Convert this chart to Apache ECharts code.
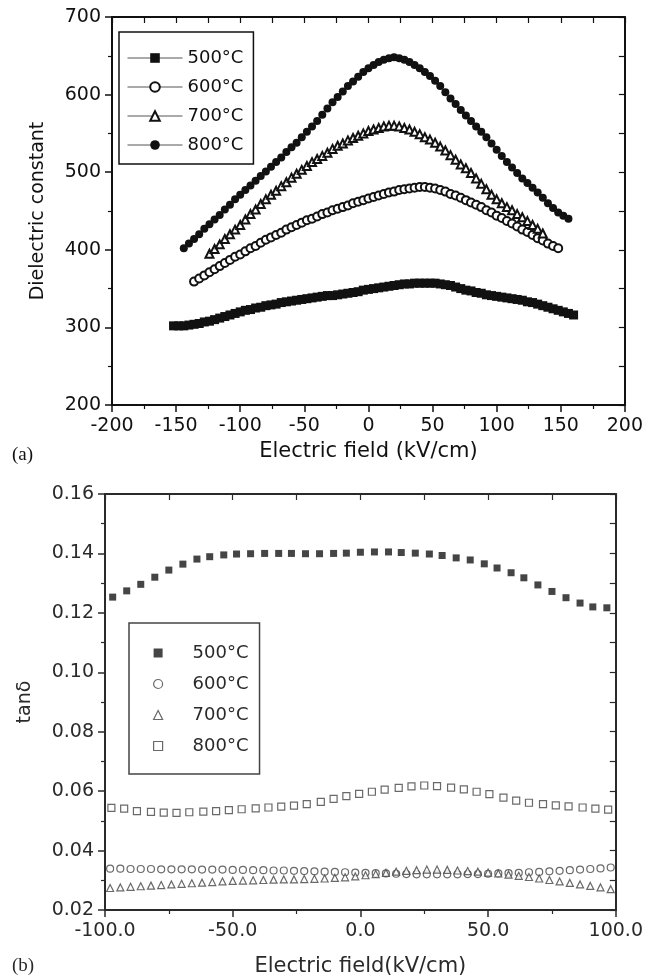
<!DOCTYPE html>
<html>
<head>
<meta charset="utf-8">
<title>Dielectric constant and tanδ vs electric field</title>
<script src="https://cdn.jsdelivr.net/npm/echarts@6/dist/echarts.min.js"></script>
<style>
  html, body { margin: 0; padding: 0; background: #ffffff; }
  #chart { width: 646px; height: 980px; }
</style>
</head>
<body>
<div id="chart"></div>
<script>
// Annealing temperatures shown in both panels
const temps = ['500°C', '600°C', '700°C', '800°C'];

// Panel (a): dielectric constant vs electric field (kV/cm), [field, value]
const eps500 = [[-152,302],[-148,302],[-144,302],[-140,303],[-136,304],[-132,305],[-128,307],[-124,308],[-120,310],[-116,312],[-112,314],[-108,316],[-104,318],[-100,320],[-96,322],[-92,323],[-88,325],[-84,326],[-80,328],[-76,329],[-72,330],[-68,332],[-64,333],[-60,334],[-56,335],[-52,336],[-48,337],[-44,338],[-40,339],[-36,340],[-32,341],[-28,341],[-24,342],[-20,343],[-16,344],[-12,345],[-8,346],[-4,348],[0,349],[4,350],[8,351],[12,352],[16,353],[20,354],[24,355],[28,356],[32,356],[36,357],[40,357],[44,357],[48,357],[52,357],[56,356],[60,355],[64,354],[68,352],[72,350],[76,348],[80,347],[84,345],[88,344],[92,342],[96,341],[100,340],[104,339],[108,338],[112,337],[116,336],[120,335],[124,333],[128,332],[132,330],[136,328],[140,326],[144,324],[148,322],[152,320],[156,318],[160,316]];
const eps600 = [[-136,359],[-132,363],[-128,367],[-124,371],[-120,375],[-116,379],[-112,383],[-108,387],[-104,391],[-100,394],[-96,398],[-92,402],[-88,405],[-84,409],[-80,413],[-76,416],[-72,419],[-68,422],[-64,426],[-60,429],[-56,432],[-52,435],[-48,438],[-44,440],[-40,443],[-36,446],[-32,448],[-28,451],[-24,453],[-20,455],[-16,457],[-12,460],[-8,462],[-4,464],[0,466],[4,468],[8,470],[12,472],[16,474],[20,475],[24,477],[28,478],[32,479],[36,480],[40,481],[44,481],[48,480],[52,479],[56,477],[60,475],[64,472],[68,470],[72,467],[76,464],[80,461],[84,458],[88,455],[92,451],[96,448],[100,444],[104,441],[108,437],[112,434],[116,430],[120,426],[124,423],[128,419],[132,415],[136,412],[140,408],[144,405],[148,402]];
const eps700 = [[-124,395],[-120,401],[-116,407],[-112,414],[-108,420],[-104,426],[-100,432],[-96,439],[-92,446],[-88,452],[-84,459],[-80,465],[-76,471],[-72,476],[-68,482],[-64,487],[-60,493],[-56,498],[-52,503],[-48,508],[-44,513],[-40,517],[-36,521],[-32,525],[-28,530],[-24,534],[-20,537],[-16,541],[-12,544],[-8,547],[-4,550],[0,553],[4,555],[8,557],[12,559],[16,560],[20,560],[24,559],[28,557],[32,555],[36,552],[40,549],[44,545],[48,542],[52,538],[56,533],[60,528],[64,522],[68,516],[72,510],[76,505],[80,499],[84,492],[88,485],[92,478],[96,471],[100,465],[104,460],[108,455],[112,451],[116,446],[120,442],[124,437],[128,432],[132,427],[136,421]];
const eps800 = [[-144,402],[-140,408],[-136,414],[-132,420],[-128,427],[-124,433],[-120,439],[-116,445],[-112,452],[-108,458],[-104,465],[-100,471],[-96,477],[-92,483],[-88,489],[-84,495],[-80,501],[-76,507],[-72,513],[-68,519],[-64,526],[-60,532],[-56,538],[-52,545],[-48,552],[-44,559],[-40,566],[-36,574],[-32,582],[-28,590],[-24,597],[-20,604],[-16,611],[-12,617],[-8,623],[-4,629],[0,634],[4,638],[8,642],[12,645],[16,647],[20,648],[24,647],[28,645],[32,642],[36,638],[40,634],[44,629],[48,624],[52,618],[56,611],[60,603],[64,595],[68,588],[72,580],[76,573],[80,566],[84,559],[88,552],[92,545],[96,537],[100,529],[104,521],[108,513],[112,506],[116,499],[120,492],[124,486],[128,480],[132,474],[136,467],[140,460],[144,454],[148,448],[152,444],[156,440]];

// Panel (b): loss tangent vs electric field (kV/cm), [field, value]
const tan500 = [[-97,0.1253],[-91.5,0.1274],[-86,0.1296],[-80.5,0.1320],[-75,0.1344],[-69.5,0.1364],[-64,0.1381],[-59,0.1389],[-53.5,0.1395],[-48.5,0.1398],[-43,0.1399],[-37.5,0.1400],[-32,0.1400],[-27,0.1400],[-21.5,0.1399],[-16,0.1399],[-10.5,0.1400],[-5.5,0.1401],[0,0.1404],[5.5,0.1405],[11,0.1405],[16,0.1403],[21.5,0.1401],[27,0.1398],[32,0.1393],[37.5,0.1385],[43,0.1378],[48.5,0.1365],[53.5,0.1351],[59,0.1335],[64,0.1318],[69.5,0.1294],[75,0.1272],[80.5,0.1251],[86,0.1233],[91,0.1220],[96.5,0.1217]];
const tan600 = [[-98,0.0339],[-94,0.0339],[-90,0.0338],[-86,0.0338],[-82,0.0338],[-78,0.0337],[-74,0.0337],[-70,0.0337],[-66,0.0337],[-62,0.0336],[-58,0.0336],[-54,0.0336],[-50,0.0335],[-46,0.0335],[-42,0.0334],[-38,0.0334],[-34,0.0333],[-30,0.0333],[-26,0.0332],[-22,0.0331],[-18,0.0330],[-14,0.0329],[-10,0.0328],[-6,0.0327],[-2,0.0326],[2,0.0325],[6,0.0324],[10,0.0323],[14,0.0322],[18,0.0321],[22,0.0320],[26,0.0320],[30,0.0320],[34,0.0320],[38,0.0320],[42,0.0321],[46,0.0321],[50,0.0322],[54,0.0323],[58,0.0324],[62,0.0325],[66,0.0327],[70,0.0328],[74,0.0330],[78,0.0332],[82,0.0334],[86,0.0336],[90,0.0338],[94,0.0340],[98,0.0343]];
const tan700 = [[-98,0.0274],[-94,0.0276],[-90,0.0278],[-86,0.0280],[-82,0.0282],[-78,0.0284],[-74,0.0286],[-70,0.0288],[-66,0.0290],[-62,0.0292],[-58,0.0294],[-54,0.0296],[-50,0.0298],[-46,0.0299],[-42,0.0300],[-38,0.0301],[-34,0.0302],[-30,0.0303],[-26,0.0303],[-22,0.0304],[-18,0.0305],[-14,0.0306],[-10,0.0308],[-6,0.0310],[-2,0.0313],[2,0.0317],[6,0.0321],[10,0.0325],[14,0.0329],[18,0.0332],[22,0.0334],[26,0.0336],[30,0.0336],[34,0.0335],[38,0.0333],[42,0.0331],[46,0.0329],[50,0.0326],[54,0.0323],[58,0.0319],[62,0.0315],[66,0.0311],[70,0.0306],[74,0.0301],[78,0.0296],[82,0.0291],[86,0.0286],[90,0.0281],[94,0.0276],[98,0.0270]];
const tan800 = [[-97.5,0.0544],[-92.5,0.0541],[-87.5,0.0533],[-82,0.0530],[-77,0.0528],[-72,0.0527],[-67,0.0529],[-61.5,0.0531],[-56.5,0.0533],[-51.5,0.0536],[-46.5,0.0539],[-41,0.0542],[-36,0.0545],[-31,0.0548],[-26,0.0551],[-21,0.0556],[-15.5,0.0564],[-10.5,0.0574],[-5.5,0.0583],[-0.5,0.0591],[4.5,0.0598],[9.5,0.0605],[15,0.0611],[20,0.0616],[25,0.0619],[30,0.0617],[35.5,0.0612],[40.5,0.0606],[45.5,0.0598],[50.5,0.0590],[56,0.0578],[61,0.0568],[66,0.0561],[71.5,0.0556],[76.5,0.0552],[81.5,0.0549],[87,0.0545],[92,0.0541],[97,0.0538]];

// Axis ranges and tick spacing
const fieldRangeA = [-200, 200];
const epsRange = [200, 700];
const fieldRangeB = [-100, 100];
const tanRange = [0.02, 0.16];

const FONT = 'DejaVu Sans';
const INK = '#111111';
const INK_B = '#2a2a2a';
const TAN_PREFIX = 'tanδ ';

const chart = echarts.init(document.getElementById('chart'), null, { renderer: 'canvas' });

function mainX(grid, range, interval, name, gap, fmt, color) {
  return {
    gridIndex: grid, type: 'value', position: 'bottom',
    min: range[0], max: range[1], interval: interval,
    axisLine: { show: true, onZero: false, lineStyle: { color: color, width: 2 } },
    axisTick: { show: true, inside: false, length: 7, lineStyle: { color: color, width: 1.5 } },
    minorTick: { show: true, splitNumber: 2, length: 4, lineStyle: { color: color, width: 1.2 } },
    splitLine: { show: false },
    axisLabel: { show: true, margin: 12, color: color, fontFamily: FONT, fontSize: 19, formatter: fmt },
    name: name, nameLocation: 'middle', nameGap: gap,
    nameTextStyle: { color: color, fontFamily: FONT, fontSize: 21 }
  };
}
function mirrorX(grid, range, interval, color) {
  return {
    gridIndex: grid, type: 'value', position: 'top',
    min: range[0], max: range[1], interval: interval,
    axisLine: { show: true, onZero: false, lineStyle: { color: color, width: 2 } },
    axisTick: { show: true, inside: true, length: 6, lineStyle: { color: color, width: 1.2 } },
    splitLine: { show: false }, axisLabel: { show: false }
  };
}
function mainY(grid, range, interval, name, gap, fmt, color) {
  return {
    gridIndex: grid, type: 'value', position: 'left',
    min: range[0], max: range[1], interval: interval,
    axisLine: { show: true, onZero: false, lineStyle: { color: color, width: 2 } },
    axisTick: { show: true, inside: false, length: 7, lineStyle: { color: color, width: 1.5 } },
    minorTick: { show: true, splitNumber: 2, length: 4, lineStyle: { color: color, width: 1.2 } },
    splitLine: { show: false },
    axisLabel: { show: true, margin: 11, color: color, fontFamily: FONT, fontSize: 19, formatter: fmt },
    name: name, nameLocation: 'middle', nameGap: gap,
    nameTextStyle: { color: color, fontFamily: FONT, fontSize: 19 }
  };
}
function mirrorY(grid, range, interval, color) {
  return {
    gridIndex: grid, type: 'value', position: 'right',
    min: range[0], max: range[1], interval: interval,
    axisLine: { show: true, onZero: false, lineStyle: { color: color, width: 2 } },
    axisTick: { show: true, inside: true, length: 6, lineStyle: { color: color, width: 1.2 } },
    splitLine: { show: false }, axisLabel: { show: false }
  };
}

const epsSymbols = ['rect', 'emptyCircle', 'emptyTriangle', 'circle'];
const epsData = [eps500, eps600, eps700, eps800];
const epsSeries = epsData.map((d, i) => ({
  name: temps[i], type: 'line', xAxisIndex: 0, yAxisIndex: 0,
  data: d, symbol: epsSymbols[i], symbolSize: i === 0 ? 9 : 8,
  showSymbol: true, showAllSymbol: true,
  lineStyle: { opacity: 0 },
  itemStyle: { color: INK, borderWidth: 1.2 },
  emphasis: { disabled: true }, silent: true, animation: false, z: 3 + i
}));

const tanSymbols = ['rect', 'circle', 'triangle', 'rect'];
const tanData = [tan500, tan600, tan700, tan800];
const tanSeries = tanData.map((d, i) => ({
  name: TAN_PREFIX + temps[i], type: 'scatter', xAxisIndex: 2, yAxisIndex: 2,
  data: d, symbol: tanSymbols[i], symbolSize: 7,
  itemStyle: i === 0
    ? { color: '#161616' }
    : { color: '#ffffff', borderColor: '#444444', borderWidth: 1.2 },
  emphasis: { disabled: true }, silent: true, animation: false, z: 3 + i
}));

const option = {
  backgroundColor: '#ffffff',
  animation: false,
  grid: [
    { left: 112, top: 17, width: 516, height: 388 },
    { left: 105, top: 494, width: 514, height: 416 }
  ],
  xAxis: [
    mainX(0, fieldRangeA, 50, 'Electric field (kV/cm)', 36, null, INK),
    mirrorX(0, fieldRangeA, 25, INK),
    mainX(1, fieldRangeB, 50, 'Electric field(kV/cm)', 46, v => v.toFixed(1), INK_B),
    mirrorX(1, fieldRangeB, 25, INK_B)
  ],
  yAxis: [
    mainY(0, epsRange, 100, 'Dielectric constant', 64, null, INK),
    mirrorY(0, epsRange, 50, INK),
    mainY(1, tanRange, 0.02, 'tanδ', 70, v => v.toFixed(2), INK_B),
    mirrorY(1, tanRange, 0.01, INK_B)
  ],
  legend: [
    {
      left: 119, top: 32, orient: 'vertical', data: temps,
      itemWidth: 55, itemHeight: 12, itemGap: 11,
      padding: [17, 10, 10, 8],
      borderColor: INK, borderWidth: 1.5, backgroundColor: '#ffffff',
      textStyle: { color: INK, fontFamily: FONT, fontSize: 18 },
      lineStyle: { width: 1, color: '#555555', opacity: 1 },
      itemStyle: { borderWidth: 1.2 },
      selectedMode: false
    },
    {
      left: 129, top: 623, orient: 'vertical', data: temps.map(t => TAN_PREFIX + t),
      formatter: name => name.replace(TAN_PREFIX, ''),
      itemWidth: 9, itemHeight: 9, itemGap: 13,
      padding: [21, 11, 19, 24],
      borderColor: '#444444', borderWidth: 1.5, backgroundColor: '#ffffff',
      textStyle: { color: INK_B, fontFamily: FONT, fontSize: 18, padding: [0, 0, 0, 25] },
      itemStyle: { borderWidth: 1.2 },
      selectedMode: false
    }
  ],
  graphic: [
    { type: 'text', left: 12, top: 446, style: { text: '(a)', font: '19px "Liberation Serif"', fill: INK } },
    { type: 'text', left: 12, top: 957, style: { text: '(b)', font: '19px "Liberation Serif"', fill: INK_B } }
  ],
  series: epsSeries.concat(tanSeries)
};

chart.setOption(option);
</script>
</body>
</html>
